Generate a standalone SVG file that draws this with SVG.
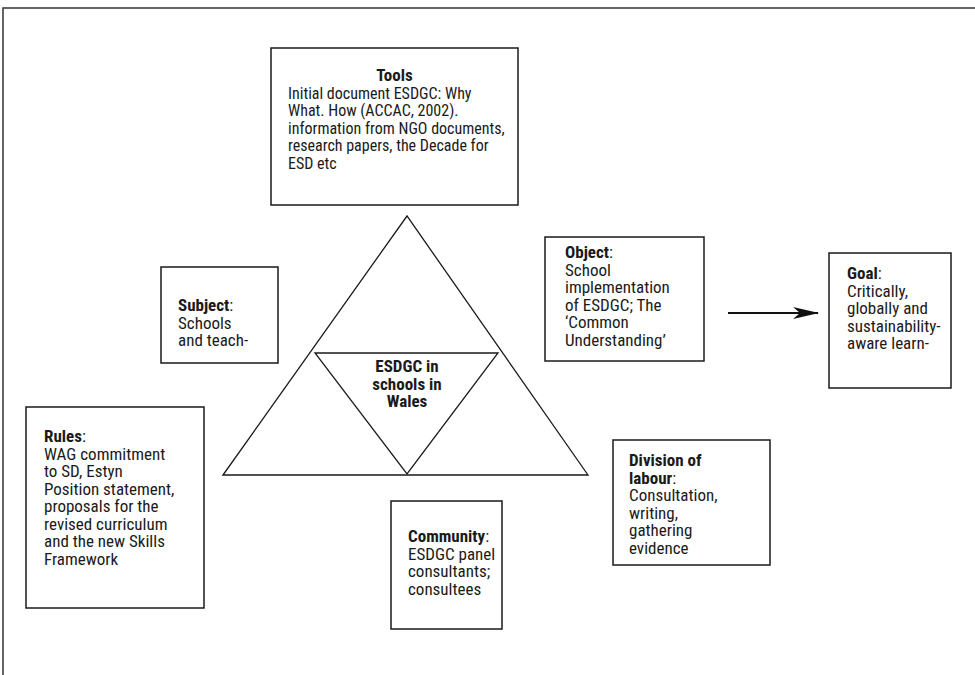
<svg xmlns="http://www.w3.org/2000/svg" width="975" height="675" viewBox="0 0 975 675">
<defs>
<style>
.box{fill:#fff;stroke:#1a1a1a;stroke-width:1.5}
.tri{fill:none;stroke:#1a1a1a;stroke-width:1.3}
text{font-family:"Liberation Sans Narrow","Roboto Condensed","Liberation Sans",Arial,sans-serif;font-size:17px;fill:#1a1a1a}
.b{font-weight:bold}
.frame{fill:none;stroke:#333;stroke-width:1.5}
</style>
<marker id="ah" viewBox="0 0 26 12" refX="25" refY="6" markerWidth="26" markerHeight="12" markerUnits="userSpaceOnUse" orient="auto">
<path d="M0,0 L26,6 L0,12 L7,6 Z" fill="#111"/>
</marker>
</defs>
<rect width="975" height="675" fill="#fff"/>
<path class="frame" d="M3,675 L3,8 L975,8"/>

<g id="triangle">
<polygon class="tri" points="223,475 407,216 588,475"/>
</g>

<g id="center">
<polygon class="tri" points="315,353 498,353 407,474"/>
<text class="b" text-anchor="middle" x="407" y="372"><tspan x="407">ESDGC in</tspan><tspan x="407" dy="17.5">schools in</tspan><tspan x="407" dy="17.5">Wales</tspan></text>
</g>

<g id="tools">
<rect class="box" x="271" y="48" width="247" height="157"/>
<text x="288" y="81" style="font-size:16px"><tspan class="b" x="394.5" text-anchor="middle" style="font-size:17px">Tools</tspan><tspan x="288" dy="17.5">Initial document ESDGC: Why</tspan><tspan x="288" dy="17.5">What. How (ACCAC, 2002).</tspan><tspan x="288" dy="17.5">information from NGO documents,</tspan><tspan x="288" dy="17.5">research papers, the Decade for</tspan><tspan x="288" dy="17.5">ESD etc</tspan></text>
</g>

<g id="subject">
<rect class="box" x="161" y="267" width="117" height="96"/>
<text x="178" y="311"><tspan class="b">Subject</tspan>:<tspan x="178" dy="17.5">Schools</tspan><tspan x="178" dy="17.5">and teach-</tspan></text>
</g>

<g id="object">
<rect class="box" x="545" y="237" width="159" height="124"/>
<text x="565" y="258"><tspan class="b">Object</tspan>:<tspan x="565" dy="17.5">School</tspan><tspan x="565" dy="17.5">implementation</tspan><tspan x="565" dy="17.5">of ESDGC; The</tspan><tspan x="565" dy="17.5">‘Common</tspan><tspan x="565" dy="17.5">Understanding’</tspan></text>
</g>

<g id="goal">
<rect class="box" x="829" y="253" width="122" height="135"/>
<text x="847" y="279"><tspan class="b">Goal</tspan>:<tspan x="847" dy="17.5">Critically,</tspan><tspan x="847" dy="17.5">globally and</tspan><tspan x="847" dy="17.5">sustainability-</tspan><tspan x="847" dy="17.5">aware learn-</tspan></text>
</g>

<g id="rules">
<rect class="box" x="26" y="407" width="178" height="201"/>
<text x="44" y="442"><tspan class="b">Rules</tspan>:<tspan x="44" dy="17.5">WAG commitment</tspan><tspan x="44" dy="17.5">to SD, Estyn</tspan><tspan x="44" dy="17.5">Position statement,</tspan><tspan x="44" dy="17.5">proposals for the</tspan><tspan x="44" dy="17.5">revised curriculum</tspan><tspan x="44" dy="17.5">and the new Skills</tspan><tspan x="44" dy="17.5">Framework</tspan></text>
</g>

<g id="community">
<rect class="box" x="391" y="501" width="111" height="128"/>
<text x="408" y="542"><tspan class="b">Community</tspan>:<tspan x="408" dy="17.5">ESDGC panel</tspan><tspan x="408" dy="17.5">consultants;</tspan><tspan x="408" dy="17.5">consultees</tspan></text>
</g>

<g id="division">
<rect class="box" x="613" y="440" width="157" height="125"/>
<text x="629" y="466"><tspan class="b">Division of</tspan><tspan x="629" dy="17.5" class="b">labour</tspan>:<tspan x="629" dy="17.5">Consultation,</tspan><tspan x="629" dy="17.5">writing,</tspan><tspan x="629" dy="17.5">gathering</tspan><tspan x="629" dy="17.5">evidence</tspan></text>
</g>

<g id="connectors">
<line x1="728" y1="313" x2="818" y2="313" stroke="#111" stroke-width="2.2" marker-end="url(#ah)"/>
</g>
</svg>
